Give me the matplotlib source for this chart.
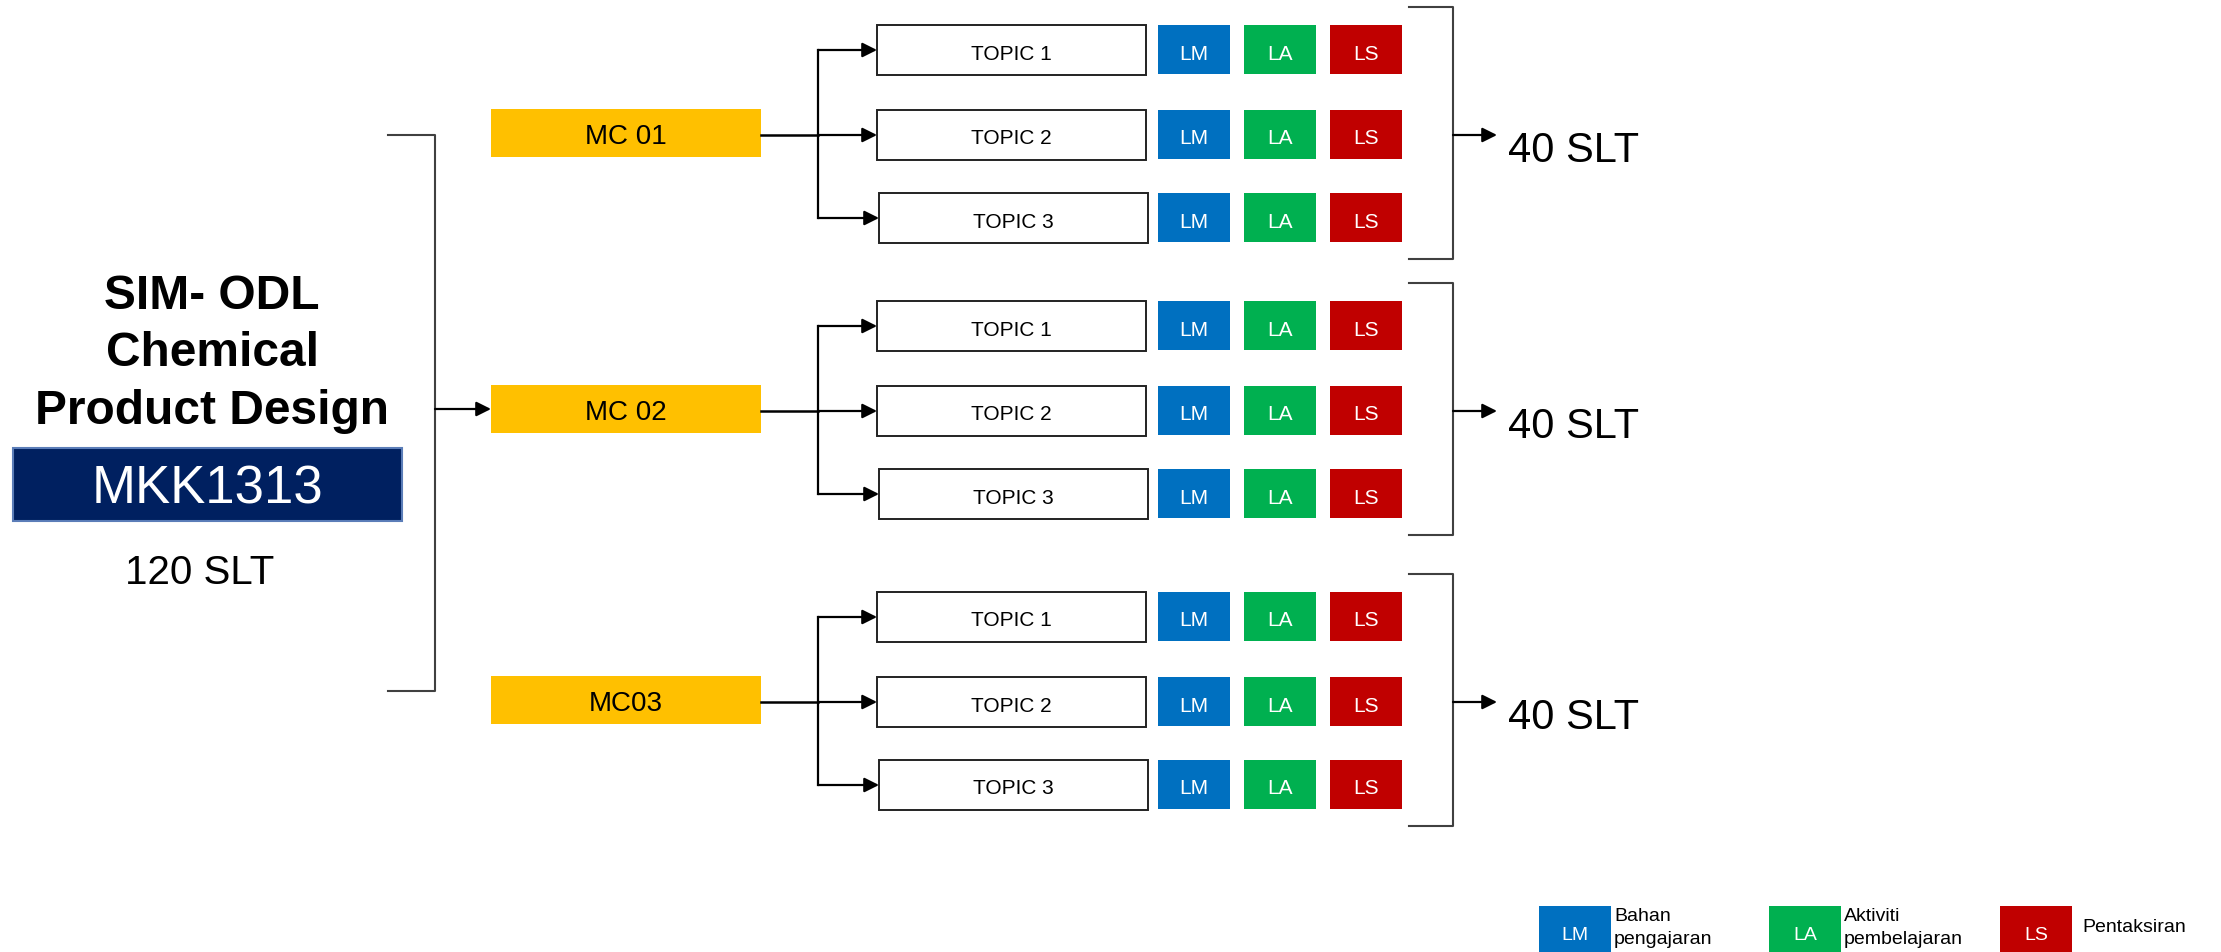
import matplotlib
matplotlib.use("Agg")
from matplotlib import pyplot as plt
from matplotlib.patches import Rectangle

plt.rcParams['font.family'] = ['Liberation Sans', 'DejaVu Sans']

# content
course_title = "SIM- ODL\nChemical\nProduct Design"
course_code = "MKK1313"
total_slt = "120 SLT"
modules = ["MC 01", "MC 02", "MC03"]
module_slt = ["40 SLT", "40 SLT", "40 SLT"]
topics = ["TOPIC 1", "TOPIC 2", "TOPIC 3"]
components = ["LM", "LA", "LS"]
component_desc = ["Bahan\npengajaran", "Aktiviti\npembelajaran", "Pentaksiran"]

# styles
comp_colors = ["#0070C0", "#00B050", "#C00000"]
mc_color = "#FFC000"
navy = "#002060"
bracket_col = "#404040"

# layout (pixel coords, y down)
group_tops = [25, 301, 592]
topic_offsets = [0, 85, 168]
topic_x = [877, 877, 879]
topic_w, topic_h = 269, 50
comp_x = [1158, 1244, 1330]
comp_w = 72

fig = plt.figure(figsize=(22.21, 9.52), dpi=100)
ax = fig.add_axes([0, 0, 1, 1])
ax.set_xlim(0, 2221)
ax.set_ylim(952, 0)
ax.axis('off')


def arrow(x0, y0, x1, y1, col="black"):
    ax.annotate("", xy=(x1, y1), xytext=(x0, y0),
                arrowprops=dict(arrowstyle="-|>", color=col, lw=1.6,
                                mutation_scale=22, shrinkA=0, shrinkB=0))


def label(x, y, s, **kw):
    # va='center' sits a bit high for caps text, nudge down
    ax.text(x, y + 4, s, va='center', **kw)


# left block
ax.text(212, 354, course_title, ha='center', va='center', fontsize=34.5,
        fontweight='bold', linespacing=1.36)
ax.add_patch(Rectangle((13, 448), 389, 73, facecolor=navy,
                       edgecolor="#5B7DB8", lw=1.5))
label(207, 486, course_code, ha='center', fontsize=38, color='white')
label(200, 569, total_slt, ha='center', fontsize=29)

# left bracket
ax.plot([388, 435, 435, 388], [135, 135, 691, 691], color=bracket_col, lw=1.5)
arrow(435, 409, 491, 409)

for g, top in enumerate(group_tops):
    mc_y = top + 108
    ax.add_patch(Rectangle((491, mc_y - 24), 270, 48, facecolor=mc_color,
                           edgecolor='none'))
    label(626, mc_y, modules[g], ha='center', fontsize=20)

    centers = [top + o + topic_h / 2 for o in topic_offsets]
    ax.plot([761, 818], [mc_y + 2, mc_y + 2], color='black', lw=1.8)
    ax.plot([818, 818], [centers[0], centers[-1]], color='black', lw=1.6)
    for t, cy in enumerate(centers):
        arrow(818, cy, topic_x[t], cy)
        ax.add_patch(Rectangle((topic_x[t], cy - topic_h / 2), topic_w, topic_h,
                               facecolor='white', edgecolor='#222222', lw=1.4))
        label(topic_x[t] + topic_w / 2, cy, topics[t], ha='center', fontsize=15)
        for c in range(3):
            ax.add_patch(Rectangle((comp_x[c], cy - 25), comp_w, 49,
                                   facecolor=comp_colors[c], edgecolor='none'))
            label(comp_x[c] + comp_w / 2, cy, components[c], ha='center',
                  fontsize=15, color='white')

    # right bracket
    b0, b1 = top - 18, top + 234
    ax.plot([1409, 1453, 1453, 1409], [b0, b0, b1, b1], color=bracket_col, lw=1.5)
    ay = top + 110
    arrow(1453, ay, 1497, ay)
    label(1508, ay + 12, module_slt[g], ha='left', fontsize=30)

# legend
leg_x = [1539, 1769, 2000]
for c in range(3):
    ax.add_patch(Rectangle((leg_x[c], 906), 72, 60, facecolor=comp_colors[c],
                           edgecolor='none', clip_on=True))
    label(leg_x[c] + 36, 931, components[c], ha='center', fontsize=14,
          color='white')
    dx = 3 if c < 2 else 10
    ax.text(leg_x[c] + 72 + dx, 928, component_desc[c], ha='left',
            va='center', fontsize=14, linespacing=1.45)

fig.savefig("out.png", dpi=100)
